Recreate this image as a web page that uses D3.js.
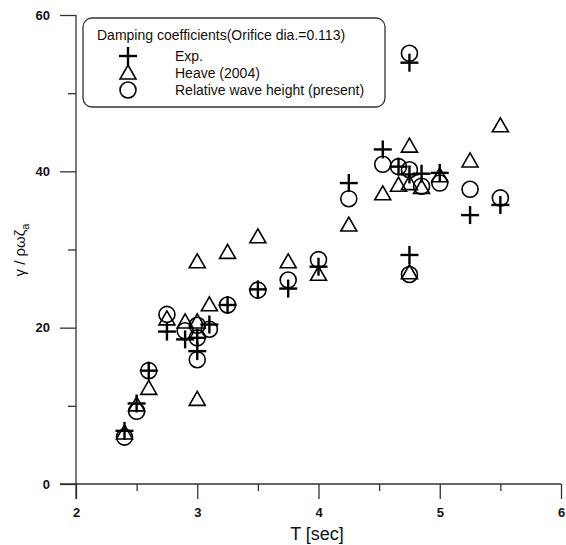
<!DOCTYPE html>
<html>
<head>
<meta charset="utf-8">
<script src="https://cdn.jsdelivr.net/npm/d3@7"></script>
<style>
html,body{margin:0;padding:0;background:#fff;}
svg{display:block;font-family:Arial,"Liberation Sans",sans-serif;}
</style>
</head>
<body>
<svg id="chart" width="566" height="545"></svg>
<script>
// ---- data ----
const expT   = [2.4, 2.5, 2.6, 2.75, 2.9, 3.0, 3.0, 3.1, 3.25, 3.5, 3.75, 4.0, 4.25, 4.53, 4.66, 4.75, 4.85, 5.0, 5.25, 5.5, 4.75, 4.75];
const expV   = [6.8, 10.3, 14.5, 19.5, 18.5, 18.7, 17.0, 20.4, 22.9, 24.9, 25.0, 27.8, 38.5, 42.8, 40.6, 39.6, 39.7, 39.8, 34.4, 35.7, 53.9, 29.3];

const heaveT = [2.4, 2.5, 2.6, 2.75, 2.9, 3.0, 3.0, 3.0, 3.1, 3.25, 3.5, 3.75, 4.0, 4.25, 4.53, 4.66, 4.75, 4.75, 4.75, 4.85, 5.0, 5.25, 5.5];
const heaveV = [6.4, 10.0, 12.1, 21.0, 20.6, 28.3, 20.6, 10.7, 22.8, 29.5, 31.5, 28.3, 26.7, 33.0, 37.0, 38.1, 38.3, 43.1, 26.9, 37.8, 39.3, 41.2, 45.7];

const relT   = [2.4, 2.5, 2.6, 2.75, 2.9, 3.0, 3.0, 3.0, 3.1, 3.25, 3.5, 3.75, 4.0, 4.25, 4.53, 4.66, 4.75, 4.75, 4.75, 4.85, 5.0, 5.25, 5.5];
const relV   = [6.0, 9.3, 14.5, 21.7, 19.6, 20.3, 18.7, 15.9, 19.8, 22.9, 24.8, 26.1, 28.7, 36.5, 40.9, 40.6, 40.2, 55.1, 26.8, 38.1, 38.5, 37.7, 36.6];

const xMajorTicks = [2, 3, 4, 5, 6];
const xMinorTicks = [2.5, 3.5, 4.5, 5.5];
const yMajorTicks = [0, 20, 40, 60];
const yMinorTicks = [10, 30, 50];

const legendTitle = "Damping coefficients(Orifice dia.=0.113)";
const legendLabels = ["Exp.", "Heave (2004)", "Relative wave height (present)"];
const xTitle = "T [sec]";

// ---- layout ----
const svg = d3.select("#chart");
const x = d3.scaleLinear().domain([2, 6]).range([76, 561]);
const y = d3.scaleLinear().domain([0, 60]).range([484, 15]);
const axisColor = "#333";

// y axis
const yAxisMajor = d3.axisLeft(y).tickValues(yMajorTicks).tickSize(16).tickPadding(10).tickFormat(d3.format("d"));
const gy = svg.append("g").attr("transform", `translate(${x(2)},0)`).call(yAxisMajor);
gy.select(".domain").remove();
const gyMinor = svg.append("g").attr("transform", `translate(${x(2)},0)`)
  .call(d3.axisLeft(y).tickValues(yMinorTicks).tickSize(8).tickFormat(""));
gyMinor.select(".domain").remove();
svg.append("line").attr("x1", x(2)).attr("x2", x(2)).attr("y1", y(60)).attr("y2", 499)
  .attr("stroke", axisColor).attr("stroke-width", 1.3);

// x axis
const gx = svg.append("g").attr("transform", `translate(0,${y(0)})`)
  .call(d3.axisBottom(x).tickValues(xMajorTicks).tickSize(15).tickPadding(9).tickFormat(d3.format("d")));
gx.select(".domain").remove();
const gxMinor = svg.append("g").attr("transform", `translate(0,${y(0)})`)
  .call(d3.axisBottom(x).tickValues(xMinorTicks).tickSize(7).tickFormat(""));
gxMinor.select(".domain").remove();
svg.append("line").attr("x1", 60).attr("x2", x(6)).attr("y1", y(0)).attr("y2", y(0))
  .attr("stroke", axisColor).attr("stroke-width", 1.3);

svg.selectAll(".tick line").attr("stroke", axisColor).attr("stroke-width", 1.3);
svg.selectAll(".tick text").attr("fill", "#111").attr("font-size", 13).attr("font-weight", "bold")
  .attr("font-family", "Arial, 'Liberation Sans', sans-serif");

// axis titles
svg.append("text").attr("x", 317).attr("y", 540).attr("text-anchor", "middle")
  .attr("font-size", 18).attr("fill", "#111").text(xTitle);

const yt = svg.append("text").attr("transform", "translate(25,250) rotate(-90)")
  .attr("text-anchor", "middle").attr("font-size", 15).attr("fill", "#111");
yt.append("tspan").text("γ / ρωζ");
yt.append("tspan").attr("font-size", 11).attr("dy", 4).text("a");

// ---- markers ----
const plotG = svg.append("g");
const plusSize = 9;
const drawPlus = (sel) => {
  sel.append("line").attr("x1", -plusSize).attr("x2", plusSize).attr("y1", 0).attr("y2", 0);
  sel.append("line").attr("x1", 0).attr("x2", 0).attr("y1", -plusSize).attr("y2", plusSize);
};
const triPath = "M0,-9 L8,5 L-8,5 Z";

function addTri(g, cx, cy) {
  g.append("path").attr("transform", `translate(${cx},${cy})`).attr("d", triPath)
    .attr("fill", "none").attr("stroke", "#000").attr("stroke-width", 1.6);
}
function addCircle(g, cx, cy) {
  g.append("circle").attr("cx", cx).attr("cy", cy).attr("r", 8)
    .attr("fill", "none").attr("stroke", "#000").attr("stroke-width", 1.6);
}
function addPlus(g, cx, cy) {
  const p = g.append("g").attr("transform", `translate(${cx},${cy})`)
    .attr("stroke", "#000").attr("stroke-width", 2.4);
  drawPlus(p);
}

heaveT.forEach((t, i) => addTri(plotG, x(t), y(heaveV[i])));
relT.forEach((t, i) => addCircle(plotG, x(t), y(relV[i])));
expT.forEach((t, i) => addPlus(plotG, x(t), y(expV[i])));

// ---- legend ----
const lg = svg.append("g");
lg.append("rect").attr("x", 83).attr("y", 18).attr("width", 302).attr("height", 89)
  .attr("rx", 9).attr("ry", 9).attr("fill", "#fff").attr("stroke", "#333").attr("stroke-width", 1.3);
lg.append("text").attr("x", 97).attr("y", 40).attr("font-size", 14).attr("fill", "#111").text(legendTitle);
const rowY = [56, 73, 90];
addPlus(lg, 128, rowY[0]);
addTri(lg, 128, rowY[1] + 1);
addCircle(lg, 128, rowY[2]);
legendLabels.forEach((l, i) => {
  lg.append("text").attr("x", 175).attr("y", rowY[i] + 5).attr("font-size", 14).attr("fill", "#111").text(l);
});
</script>
</body>
</html>
